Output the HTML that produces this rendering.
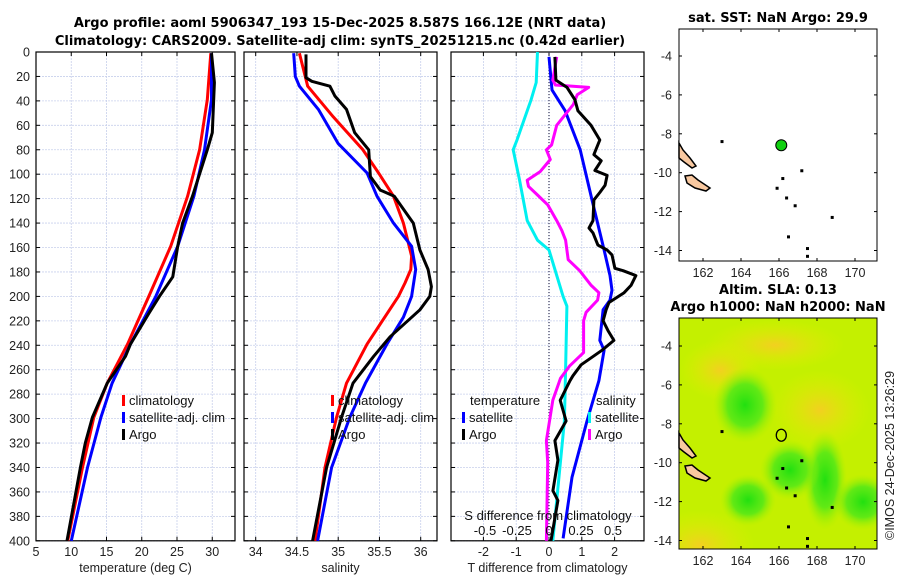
<!DOCTYPE html>
<html><head><meta charset="utf-8"><style>
html,body{margin:0;padding:0;background:#fff;}
svg{display:block;font-family:"Liberation Sans","DejaVu Sans",sans-serif;}
.t{font-size:12.5px;fill:#222}
.b{font-weight:bold;font-size:13px;fill:#000;font-family:"DejaVu Sans","Liberation Sans",sans-serif}
.lg{font-size:13px;fill:#111}
</style></head><body>
<svg id="c" width="900" height="580" viewBox="0 0 900 580" xmlns="http://www.w3.org/2000/svg">
<defs>
<radialGradient id="g1"><stop offset="0" stop-color="#22e010"/><stop offset="0.55" stop-color="#50e818" stop-opacity="0.85"/><stop offset="1" stop-color="#a8f000" stop-opacity="0"/></radialGradient>
<radialGradient id="y1"><stop offset="0" stop-color="#f2d020"/><stop offset="1" stop-color="#e0f000" stop-opacity="0"/></radialGradient>
<clipPath id="mc"><rect x="679" y="318" width="198" height="231"/></clipPath>
</defs>
<text class="b" x="340" y="27" text-anchor="middle">Argo profile: aoml 5906347_193 15-Dec-2025 8.587S 166.12E (NRT data)</text>
<text class="b" x="340" y="45" text-anchor="middle">Climatology: CARS2009. Satellite-adj clim: synTS_20251215.nc (0.42d earlier)</text>
<g id="p1"></g>
<g id="p2"></g>
<g id="p3"></g>
<g id="m1"></g>
<g id="m2"></g>
<text class="t" x="894" y="540" transform="rotate(-90 894 540)" style="font-size:12.5px">©IMOS 24-Dec-2025 13:26:29</text>
</svg>
<script>
// ---- data ----
const depthTicks=[0,20,40,60,80,100,120,140,160,180,200,220,240,260,280,300,320,340,360,380,400];
const tTicks=[5,10,15,20,25,30];
const sTicks=[34,34.5,35,35.5,36];
const dTTicks=[-2,-1,0,1,2];
const dSTicks=[-0.5,-0.25,0,0.25,0.5];
const tClimD=[1,39,80,118,159,200,239,271,299,340,400];
const tClimV=[29.8,29.3,28.2,26.5,24.1,21.0,18.0,15.1,13.2,11.6,9.5];
const tSatD=[1,39,80,118,159,200,239,271,299,340,400];
const tSatV=[29.9,29.9,28.9,27.4,25.1,22.0,18.4,15.8,14.2,12.3,10.0];
const tArgoD=[1,25,66,80,118,140,159,184,200,214,239,249,271,299,320,340,400];
const tArgoV=[29.9,30.3,30.0,29.3,27.2,25.8,25.1,24.4,22.5,21.0,18.4,17.7,15.1,13.0,12.0,11.3,9.4];
const sClimD=[1,28,53,80,99,118,140,167,178,189,200,239,271,299,340,400];
const sClimV=[34.53,34.63,34.94,35.3,35.49,35.67,35.79,35.89,35.88,35.81,35.73,35.35,35.1,34.98,34.84,34.72];
const sSatD=[1,20,28,47,75,99,118,140,159,178,200,217,239,271,299,340,400];
const sSatV=[34.46,34.48,34.53,34.76,35.0,35.35,35.47,35.67,35.89,35.94,35.89,35.79,35.59,35.33,35.14,34.92,34.75];
const sArgoD=[2,21,24,28,36,47,66,80,102,113,118,140,162,178,192,200,211,233,249,271,299,340,400];
const sArgoV=[34.61,34.61,34.68,34.9,34.96,35.1,35.2,35.37,35.39,35.51,35.68,35.91,35.99,36.09,36.13,36.11,35.99,35.63,35.43,35.18,35.04,34.86,34.69];
const dTSatD=[4,31,48,80,121,162,183,195,203,211,236,244,269,302,348,398];
const dTSatV=[0,0.09,0.49,0.95,1.31,1.68,1.86,1.92,1.86,1.65,1.55,1.68,1.52,1.16,0.7,0.43];
const dTArgoD=[4,23,29,39,48,60,68,72,84,89,97,101,109,115,121,138,144,148,158,162,166,177,179,183,191,197,205,211,220,228,236,244,256,265,269,285,302,318,334,359,367,400];
const dTArgoV=[0.18,0.21,0.55,0.79,0.88,1.28,1.46,1.55,1.37,1.59,1.4,1.77,1.71,1.55,1.37,1.34,1.22,1.34,1.49,1.77,1.92,2.01,2.26,2.65,2.5,2.29,1.83,1.74,1.65,1.8,1.98,1.62,0.98,0.73,0.64,0.34,0.52,0.18,0.27,0.12,0.27,0.06];
const dSSatD=[0,25,39,72,80,105,138,154,162,200,208,260,302,400];
const dSSatV=[-0.09,-0.1,-0.14,-0.25,-0.28,-0.23,-0.17,-0.09,0,0.11,0.14,0.13,0.12,0.03];
const dSArgoD=[4,23,27,29,35,43,60,76,80,88,98,105,110,117,125,138,146,154,170,179,191,197,203,213,220,246,257,267,285,318,336,400];
const dSArgoV=[0.06,0.03,0.05,0.31,0.22,0.19,0.06,0.02,-0.02,0.01,-0.07,-0.17,-0.16,-0.09,-0.01,0.06,0.1,0.13,0.15,0.24,0.33,0.39,0.38,0.29,0.27,0.27,0.16,0.09,0.03,-0.02,-0.01,-0.02];
const lonTicks=[162,164,166,168,170];
const latTicks=[-4,-6,-8,-10,-12,-14];
const argoLon=[166.12], argoLat=[-8.587];

// ---- helpers ----
const NS="http://www.w3.org/2000/svg";
function mk(par,tag,at){const e=document.createElementNS(NS,tag);for(const k in at)e.setAttribute(k,at[k]);par.appendChild(e);return e;}
const Y0=52, PY=1.222;
const yD=d=>Y0+d*PY;
function panel(g,x0,x1,xs,ticks,fmt,label){
  for(const d of depthTicks){const l=mk(g,'line',{x1:x0,x2:x1,y1:yD(d),y2:yD(d),stroke:'#c8d0ec','stroke-dasharray':'2,1','stroke-width':0.8});
    }
  for(const t of ticks){const x=xs(t);const l=mk(g,'line',{x1:x,x2:x,y1:Y0,y2:yD(400),stroke:'#c8d0ec','stroke-dasharray':'2,1','stroke-width':0.8});
    
    mk(g,'line',{x1:x,x2:x,y1:Y0,y2:Y0+4,stroke:'#000'});mk(g,'line',{x1:x,x2:x,y1:yD(400),y2:yD(400)-4,stroke:'#000'});
    if(fmt){const tx=mk(g,'text',{x:x,y:yD(400)+15,'text-anchor':'middle',class:'t'});tx.textContent=fmt(t);
      }}
  for(const d of depthTicks){mk(g,'line',{x1:x0,x2:x0+4,y1:yD(d),y2:yD(d),stroke:'#000'});mk(g,'line',{x1:x1,x2:x1-4,y1:yD(d),y2:yD(d),stroke:'#000'});}
  const r=mk(g,'rect',{x:x0,y:Y0,width:x1-x0,height:yD(400)-Y0,fill:'none',stroke:'#000','stroke-width':1.2});
  
  if(label){const t=mk(g,'text',{x:(x0+x1)/2,y:572,'text-anchor':'middle',class:'t'});t.textContent=label;
    }
}
function line(g,D,V,xs,col,name,w){const p=D.map((d,i)=>xs(V[i]).toFixed(1)+','+yD(d).toFixed(1)).join(' ');
  const e=mk(g,'polyline',{points:p,fill:'none',stroke:col,'stroke-width':w||3,'stroke-linejoin':'round'});
  }
function legend(g,x,y,items){items.forEach((it,i)=>{const yy=y+i*17;
  const m=mk(g,'rect',{x:x,y:yy-10,width:3,height:11,fill:it[1]});
  const t=mk(g,'text',{x:x+7,y:yy,class:'lg'});t.textContent=it[0];});}

const svg=document.getElementById('c');
for(const d of depthTicks){const t=mk(svg,'text',{x:30,y:yD(d)+4.5,'text-anchor':'end',class:'t'});t.textContent=d;
  }

// panel 1
const p1=document.getElementById('p1');
const xT=v=>36+(v-5)*7.05;
panel(p1,36,235,xT,tTicks,v=>v,'temperature (deg C)');
line(p1,tClimD,tClimV,xT,'#f00','temp-climatology-line');
line(p1,tSatD,tSatV,xT,'#00f','temp-satellite-line');
line(p1,tArgoD,tArgoV,xT,'#000','temp-argo-line');
legend(p1,122,405,[['climatology','#f00'],['satellite-adj. clim','#00f'],['Argo','#000']]);

// panel 2
const p2=document.getElementById('p2');
const xS=v=>255.7+(v-34)*82.5;
panel(p2,244,437,xS,sTicks,v=>v,'salinity');
line(p2,sClimD,sClimV,xS,'#f00','sal-climatology-line');
line(p2,sSatD,sSatV,xS,'#00f','sal-satellite-line');
line(p2,sArgoD,sArgoV,xS,'#000','sal-argo-line');
legend(p2,331,405,[['climatology','#f00'],['satellite-adj. clim','#00f'],['Argo','#000']]);

// panel 3
const p3=document.getElementById('p3');
const xdT=v=>549+v*32.8, xdS=v=>549+v*128;
panel(p3,451,644,xdT,dTTicks,v=>v,'T difference from climatology');
const zl=mk(p3,'line',{x1:549,x2:549,y1:Y0,y2:yD(400),stroke:'#335',"stroke-dasharray":'1,2','stroke-width':1.2});

line(p3,dSSatD,dSSatV,xdS,'#00f0f0','sal-diff-satellite-line');
line(p3,dTSatD,dTSatV,xdT,'#00f','temp-diff-satellite-line');
line(p3,dSArgoD,dSArgoV,xdS,'#f0f','sal-diff-argo-line');
line(p3,dTArgoD,dTArgoV,xdT,'#000','temp-diff-argo-line');
{const t=mk(p3,'text',{x:470,y:405,class:'lg'});t.textContent='temperature';
 const t2=mk(p3,'text',{x:596,y:405,class:'lg'});t2.textContent='salinity';}
legend(p3,462,422,[['satellite','#00f'],['Argo','#000']]);
legend(p3,588,422,[['satellite','#00f0f0'],['Argo','#f0f']]);
{const t=mk(p3,'text',{x:548,y:520,'text-anchor':'middle',class:'lg'});t.textContent='S difference from climatology';
 
 for(const v of dSTicks){const tx=mk(p3,'text',{x:xdS(v),y:535,'text-anchor':'middle',class:'lg'});tx.textContent=v;
  }}

// maps
const lonX=v=>703+(v-162)*19;
function mapAxes(g,top,bot,bg,lat4y,title,titleY){
  const latY=v=>lat4y+(-4-v)*19.45;
  const off=lat4y-56;
  if(bg)bg(g,latY);
  const land=[[[679,143],[683,150],[690,158],[696,166],[692,168],[684,162],[679,158]],[[685,176],[692,175],[698,180],[704,184],[710,188],[706,191],[695,188],[687,183]]];
  for(const L of land){const p=mk(g,'polygon',{points:L.map(q=>q[0]+','+(q[1]+off)).join(' '),fill:'#f8c8a0',stroke:'#000','stroke-width':1.5});
    }
  const isl=[[165.9,-10.8],[166.2,-10.3],[166.4,-11.3],[166.85,-11.7],[166.5,-13.3],[167.5,-13.9],[167.5,-14.3],[167.2,-9.9],[168.8,-12.3],[163,-8.4]];
  for(const q of isl){const r=mk(g,'rect',{x:lonX(q[0])-1.5,y:latY(q[1])-1.5,width:3,height:3,fill:'#000'});}
  const box=mk(g,'rect',{x:679,y:top,width:198,height:bot-top,fill:'none',stroke:'#000','stroke-width':1});
  
  for(const v of lonTicks){const x=lonX(v);mk(g,'line',{x1:x,x2:x,y1:bot,y2:bot-3,stroke:'#000'});mk(g,'line',{x1:x,x2:x,y1:top,y2:top+3,stroke:'#000'});
    const t=mk(g,'text',{x:x,y:bot+16,'text-anchor':'middle',class:'t'});t.textContent=v;}
  for(const v of latTicks){const y=latY(v);mk(g,'line',{x1:679,x2:682,y1:y,y2:y,stroke:'#000'});mk(g,'line',{x1:877,x2:874,y1:y,y2:y,stroke:'#000'});
    const t=mk(g,'text',{x:672,y:y+4.5,'text-anchor':'end',class:'t'});t.textContent=v;}
  title.forEach((s,i)=>{const t=mk(g,'text',{x:778,y:titleY[i],'text-anchor':'middle',class:'b'});t.textContent=s;});
  return latY;
}
const m1=document.getElementById('m1');
const ly1=mapAxes(m1,29,261,null,56,['sat. SST: NaN Argo: 29.9'],[22]);
{const c=mk(m1,'circle',{cx:lonX(argoLon[0]),cy:ly1(argoLat[0]),r:5.5,fill:'#10d010',stroke:'#000','stroke-width':1});}
const m2=document.getElementById('m2');
const ly2=mapAxes(m2,318,549,(g,latY)=>{
  const cg=mk(g,'g',{'clip-path':'url(#mc)'});
  const r=mk(cg,'rect',{x:679,y:318,width:198,height:231,fill:'#c4f000'});
  const blobs=[['y1',775,345,70,25],['y1',700,545,55,35],['y1',820,410,50,40],['y1',720,370,40,30],
    ['g1',745,405,32,38],['g1',825,480,22,50],['g1',863,502,30,28],['g1',748,500,28,26],['g1',790,470,30,30]];
  for(const b of blobs){const e=mk(cg,'ellipse',{cx:b[1],cy:b[2],rx:b[3],ry:b[4],fill:'url(#'+b[0]+')'});}
},346,['Altim. SLA: 0.13','Argo h1000: NaN h2000: NaN'],[294,311]);
{const c=mk(m2,'ellipse',{cx:lonX(argoLon[0]),cy:ly2(argoLat[0]),rx:5,ry:6,fill:'none',stroke:'#000','stroke-width':1.3});}
</script>
</body></html>
